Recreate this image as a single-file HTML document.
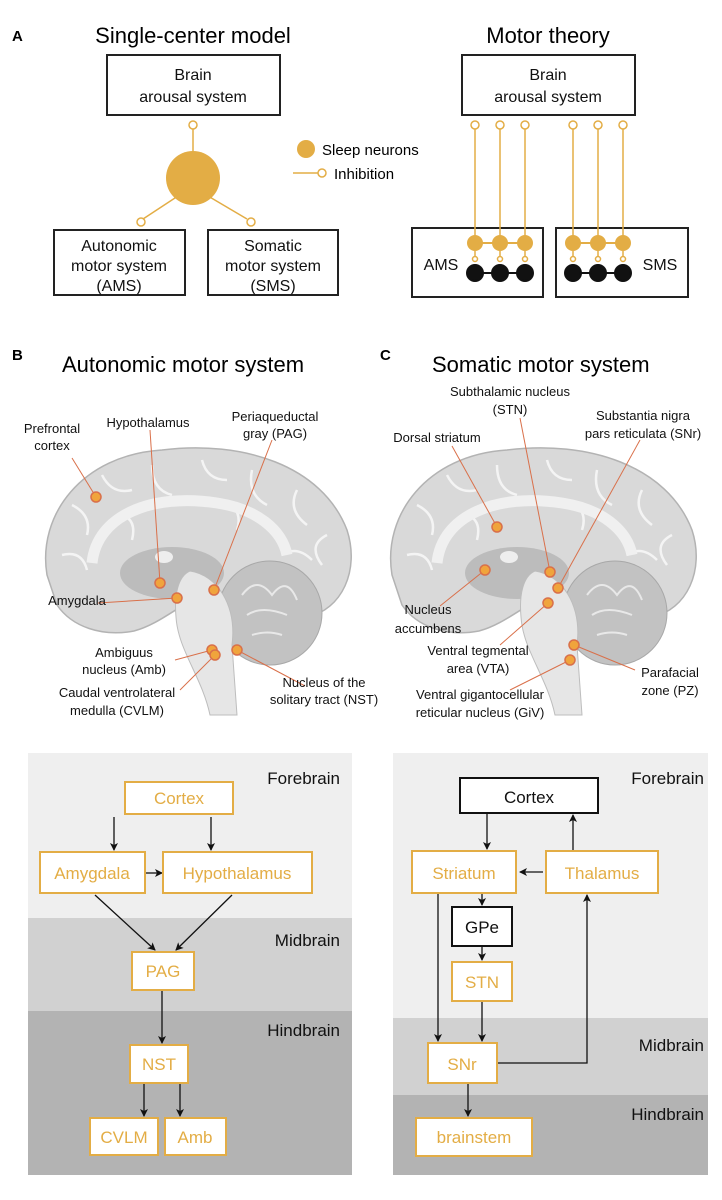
<!DOCTYPE html>
<html><head><meta charset="utf-8"><style>
html,body{margin:0;padding:0;background:#fff;}
svg{display:block;font-family:"Liberation Sans",Arial,sans-serif;}
</style></head><body>
<svg width="722" height="1200" viewBox="0 0 722 1200" xmlns="http://www.w3.org/2000/svg">
<defs>
<g id="brain">
  <path d="M5 130 C-5 70 40 10 120 5 C200 -5 280 20 305 85 C318 125 300 165 265 172 C240 174 225 162 210 152 L170 148 C145 152 122 178 92 186 C60 192 30 182 15 160 Z" fill="#d9d9d9" stroke="#b3b3b3" stroke-width="1.5"/>
  <path d="M30 60 q20 10 15 30 M60 30 q10 20 30 15 M110 20 q0 25 20 30 M160 15 q5 20 25 20 M210 25 q-5 25 15 35 M255 45 q-10 20 10 35 M285 90 q-20 10 -5 30 M20 110 q20 -5 25 15 M240 110 q15 -10 30 5 M80 70 q15 5 10 25 M190 60 q10 10 5 25" fill="none" stroke="#f4f4f4" stroke-width="2.5"/>
  <path d="M50 118 C55 70 110 48 175 58 C215 64 240 85 245 110" fill="none" stroke="#f0f0f0" stroke-width="11"/>
  <ellipse cx="130" cy="128" rx="52" ry="26" fill="#bcbcbc"/>
  <ellipse cx="122" cy="112" rx="9" ry="6" fill="#eee"/>
  <ellipse cx="228" cy="168" rx="52" ry="52" fill="#c2c2c2" stroke="#a8a8a8"/>
  <path d="M200 150 q15 -20 30 0 q15 -20 25 5 M205 170 q15 -10 40 0 M210 190 q15 -5 30 0" fill="none" stroke="#e8e8e8" stroke-width="2"/>
  <path d="M148 126 C175 130 195 160 190 200 L195 270 L168 270 C160 232 136 205 134 172 C132 150 136 131 148 126Z" fill="#e6e6e6" stroke="#bdbdbd"/>
</g>
</defs>

<!-- Panel A -->
<text x="12" y="41" font-size="15" font-weight="bold">A</text>
<text x="193" y="43" font-size="22" text-anchor="middle">Single-center model</text>
<text x="548" y="43" font-size="22" text-anchor="middle">Motor theory</text>
<g fill="none" stroke="#222" stroke-width="2">
<rect x="107" y="55" width="173" height="60" fill="#fff"/>
<rect x="54" y="230" width="131" height="65" fill="#fff"/>
<rect x="208" y="230" width="130" height="65" fill="#fff"/>
<rect x="462" y="55" width="173" height="60" fill="#fff"/>
<rect x="412" y="228" width="131" height="69" fill="#fff"/>
<rect x="556" y="228" width="132" height="69" fill="#fff"/>
</g>
<g font-size="16" text-anchor="middle" fill="#111">
<text x="193" y="80">Brain</text><text x="193" y="102">arousal system</text>
<text x="548" y="80">Brain</text><text x="548" y="102">arousal system</text>
<text x="119" y="251">Autonomic</text><text x="119" y="271">motor system</text><text x="119" y="291">(AMS)</text>
<text x="273" y="251">Somatic</text><text x="273" y="271">motor system</text><text x="273" y="291">(SMS)</text>
<text x="441" y="270">AMS</text><text x="660" y="270">SMS</text>
</g>
<g stroke="#e3ad45" stroke-width="1.5" fill="#fff">
<line x1="193" y1="129" x2="193" y2="160"/>
<line x1="178" y1="196" x2="143" y2="219"/>
<line x1="208" y1="196" x2="247" y2="219"/>
<circle cx="193" cy="125" r="4"/>
<circle cx="141" cy="222" r="4"/>
<circle cx="251" cy="222" r="4"/>
<circle cx="193" cy="178" r="27" fill="#e3ad45" stroke="none"/>
<circle cx="306" cy="149" r="9" fill="#e3ad45" stroke="none"/>
<line x1="293" y1="173" x2="318" y2="173"/>
<circle cx="322" cy="173" r="4"/>
</g>
<text x="322" y="155" font-size="15">Sleep neurons</text>
<text x="334" y="179" font-size="15">Inhibition</text>
<g stroke="#e3ad45" stroke-width="1.5" fill="#fff">
<line x1="475" y1="129" x2="475" y2="243"/><line x1="500" y1="129" x2="500" y2="243"/><line x1="525" y1="129" x2="525" y2="243"/>
<line x1="573" y1="129" x2="573" y2="243"/><line x1="598" y1="129" x2="598" y2="243"/><line x1="623" y1="129" x2="623" y2="243"/>
<circle cx="475" cy="125" r="4"/><circle cx="500" cy="125" r="4"/><circle cx="525" cy="125" r="4"/>
<circle cx="573" cy="125" r="4"/><circle cx="598" cy="125" r="4"/><circle cx="623" cy="125" r="4"/>
<line x1="475" y1="243" x2="525" y2="243" stroke-width="2"/><line x1="573" y1="243" x2="623" y2="243" stroke-width="2"/>
<line x1="475" y1="251" x2="475" y2="256"/><line x1="500" y1="251" x2="500" y2="256"/><line x1="525" y1="251" x2="525" y2="256"/>
<line x1="573" y1="251" x2="573" y2="256"/><line x1="598" y1="251" x2="598" y2="256"/><line x1="623" y1="251" x2="623" y2="256"/>
<g fill="#e3ad45" stroke="none">
<circle cx="475" cy="243" r="8"/><circle cx="500" cy="243" r="8"/><circle cx="525" cy="243" r="8"/>
<circle cx="573" cy="243" r="8"/><circle cx="598" cy="243" r="8"/><circle cx="623" cy="243" r="8"/></g>
<circle cx="475" cy="259" r="2.5"/><circle cx="500" cy="259" r="2.5"/><circle cx="525" cy="259" r="2.5"/>
<circle cx="573" cy="259" r="2.5"/><circle cx="598" cy="259" r="2.5"/><circle cx="623" cy="259" r="2.5"/>
</g>
<g fill="#111" stroke="#111" stroke-width="2">
<line x1="475" y1="273" x2="525" y2="273"/><line x1="573" y1="273" x2="623" y2="273"/>
<circle cx="475" cy="273" r="8"/><circle cx="500" cy="273" r="8"/><circle cx="525" cy="273" r="8"/>
<circle cx="573" cy="273" r="8"/><circle cx="598" cy="273" r="8"/><circle cx="623" cy="273" r="8"/>
</g>

<!-- Panel B/C titles -->
<text x="12" y="360" font-size="15" font-weight="bold">B</text>
<text x="62" y="372" font-size="22">Autonomic motor system</text>
<text x="380" y="360" font-size="15" font-weight="bold">C</text>
<text x="432" y="372" font-size="22">Somatic motor system</text>

<use href="#brain" transform="translate(42,445)"/>
<use href="#brain" transform="translate(387,445)"/>

<g stroke="#d9704a" stroke-width="1" fill="none">
<line x1="96" y1="497" x2="72" y2="458"/>
<line x1="160" y1="583" x2="150" y2="430"/>
<line x1="214" y1="590" x2="272" y2="440"/>
<line x1="177" y1="598" x2="98" y2="603"/>
<line x1="212" y1="650" x2="175" y2="660"/>
<line x1="215" y1="655" x2="180" y2="690"/>
<line x1="237" y1="650" x2="305" y2="686"/>
<line x1="497" y1="527" x2="452" y2="446"/>
<line x1="485" y1="570" x2="440" y2="606"/>
<line x1="550" y1="572" x2="520" y2="418"/>
<line x1="558" y1="588" x2="640" y2="440"/>
<line x1="548" y1="603" x2="500" y2="645"/>
<line x1="574" y1="645" x2="635" y2="670"/>
<line x1="570" y1="660" x2="510" y2="690"/>
</g>
<g fill="#f0a43c" stroke="#d9704a" stroke-width="1.5">
<circle cx="96" cy="497" r="5"/><circle cx="160" cy="583" r="5"/><circle cx="177" cy="598" r="5"/>
<circle cx="214" cy="590" r="5"/><circle cx="212" cy="650" r="5"/><circle cx="215" cy="655" r="5"/><circle cx="237" cy="650" r="5"/>
<circle cx="497" cy="527" r="5"/><circle cx="485" cy="570" r="5"/><circle cx="550" cy="572" r="5"/>
<circle cx="558" cy="588" r="5"/><circle cx="548" cy="603" r="5"/><circle cx="574" cy="645" r="5"/><circle cx="570" cy="660" r="5"/>
</g>
<g font-size="13" fill="#111" text-anchor="middle">
<text x="52" y="433">Prefrontal</text><text x="52" y="450">cortex</text>
<text x="148" y="427">Hypothalamus</text>
<text x="275" y="421">Periaqueductal</text><text x="275" y="438">gray (PAG)</text>
<text x="77" y="605">Amygdala</text>
<text x="124" y="657">Ambiguus</text><text x="124" y="674">nucleus (Amb)</text>
<text x="117" y="697">Caudal ventrolateral</text><text x="117" y="715">medulla (CVLM)</text>
<text x="324" y="687">Nucleus of the</text><text x="324" y="704">solitary tract (NST)</text>
<text x="510" y="396">Subthalamic nucleus</text><text x="510" y="414">(STN)</text>
<text x="437" y="442">Dorsal striatum</text>
<text x="643" y="420">Substantia nigra</text><text x="643" y="438">pars reticulata (SNr)</text>
<text x="428" y="614">Nucleus</text><text x="428" y="633">accumbens</text>
<text x="478" y="655">Ventral tegmental</text><text x="478" y="673">area (VTA)</text>
<text x="480" y="699">Ventral gigantocellular</text><text x="480" y="717">reticular nucleus (GiV)</text>
<text x="670" y="677">Parafacial</text><text x="670" y="695">zone (PZ)</text>
</g>

<!-- Bottom left panel -->
<rect x="28" y="753" width="324" height="165" fill="#efefef"/>
<rect x="28" y="918" width="324" height="93" fill="#d1d1d1"/>
<rect x="28" y="1011" width="324" height="164" fill="#b3b3b3"/>
<!-- Bottom right panel -->
<rect x="393" y="753" width="315" height="265" fill="#efefef"/>
<rect x="393" y="1018" width="315" height="77" fill="#d1d1d1"/>
<rect x="393" y="1095" width="315" height="80" fill="#b3b3b3"/>
<g font-size="17" fill="#111" text-anchor="end">
<text x="340" y="784">Forebrain</text><text x="340" y="946">Midbrain</text><text x="340" y="1036">Hindbrain</text>
<text x="704" y="784">Forebrain</text><text x="704" y="1051">Midbrain</text><text x="704" y="1120">Hindbrain</text>
</g>
<defs><marker id="ar" markerWidth="8" markerHeight="8" refX="7" refY="4" orient="auto" markerUnits="userSpaceOnUse"><path d="M0 0 L8 4 L0 8 L2 4Z" fill="#111"/></marker></defs>
<g stroke="#111" stroke-width="1.3" fill="none" marker-end="url(#ar)">
<line x1="114" y1="817" x2="114" y2="850"/>
<line x1="211" y1="817" x2="211" y2="850"/>
<line x1="146" y1="873" x2="162" y2="873"/>
<line x1="95" y1="895" x2="155" y2="950"/>
<line x1="232" y1="895" x2="176" y2="950"/>
<line x1="162" y1="990" x2="162" y2="1043"/>
<line x1="144" y1="1083" x2="144" y2="1116"/>
<line x1="180" y1="1083" x2="180" y2="1116"/>
<line x1="487" y1="813" x2="487" y2="849"/>
<line x1="573" y1="851" x2="573" y2="815"/>
<line x1="543" y1="872" x2="520" y2="872"/>
<line x1="482" y1="893" x2="482" y2="905"/>
<line x1="482" y1="946" x2="482" y2="960"/>
<line x1="482" y1="1001" x2="482" y2="1041"/>
<line x1="438" y1="893" x2="438" y2="1041"/>
<line x1="468" y1="1083" x2="468" y2="1116"/>
<polyline points="497,1063 587,1063 587,895"/>
</g>
<g stroke-width="2" fill="#fff">
<g stroke="#e3ad45">
<rect x="125" y="782" width="108" height="32"/>
<rect x="40" y="852" width="105" height="41"/>
<rect x="163" y="852" width="149" height="41"/>
<rect x="132" y="952" width="62" height="38"/>
<rect x="130" y="1045" width="58" height="38"/>
<rect x="90" y="1118" width="68" height="37"/>
<rect x="165" y="1118" width="61" height="37"/>
<rect x="412" y="851" width="104" height="42"/>
<rect x="546" y="851" width="112" height="42"/>
<rect x="452" y="962" width="60" height="39"/>
<rect x="428" y="1043" width="69" height="40"/>
<rect x="416" y="1118" width="116" height="38"/>
</g>
<g stroke="#111">
<rect x="460" y="778" width="138" height="35"/>
<rect x="452" y="907" width="60" height="39"/>
</g>
</g>
<g font-size="17" text-anchor="middle" fill="#e3ad45">
<text x="179" y="804">Cortex</text>
<text x="92" y="879">Amygdala</text>
<text x="237" y="879">Hypothalamus</text>
<text x="163" y="977">PAG</text>
<text x="159" y="1070">NST</text>
<text x="124" y="1143">CVLM</text>
<text x="195" y="1143">Amb</text>
<text x="464" y="879">Striatum</text>
<text x="602" y="879">Thalamus</text>
<text x="482" y="988">STN</text>
<text x="462" y="1070">SNr</text>
<text x="474" y="1143">brainstem</text>
</g>
<g font-size="17" text-anchor="middle" fill="#111">
<text x="529" y="803">Cortex</text>
<text x="482" y="933">GPe</text>
</g>
</svg>
</body></html>
